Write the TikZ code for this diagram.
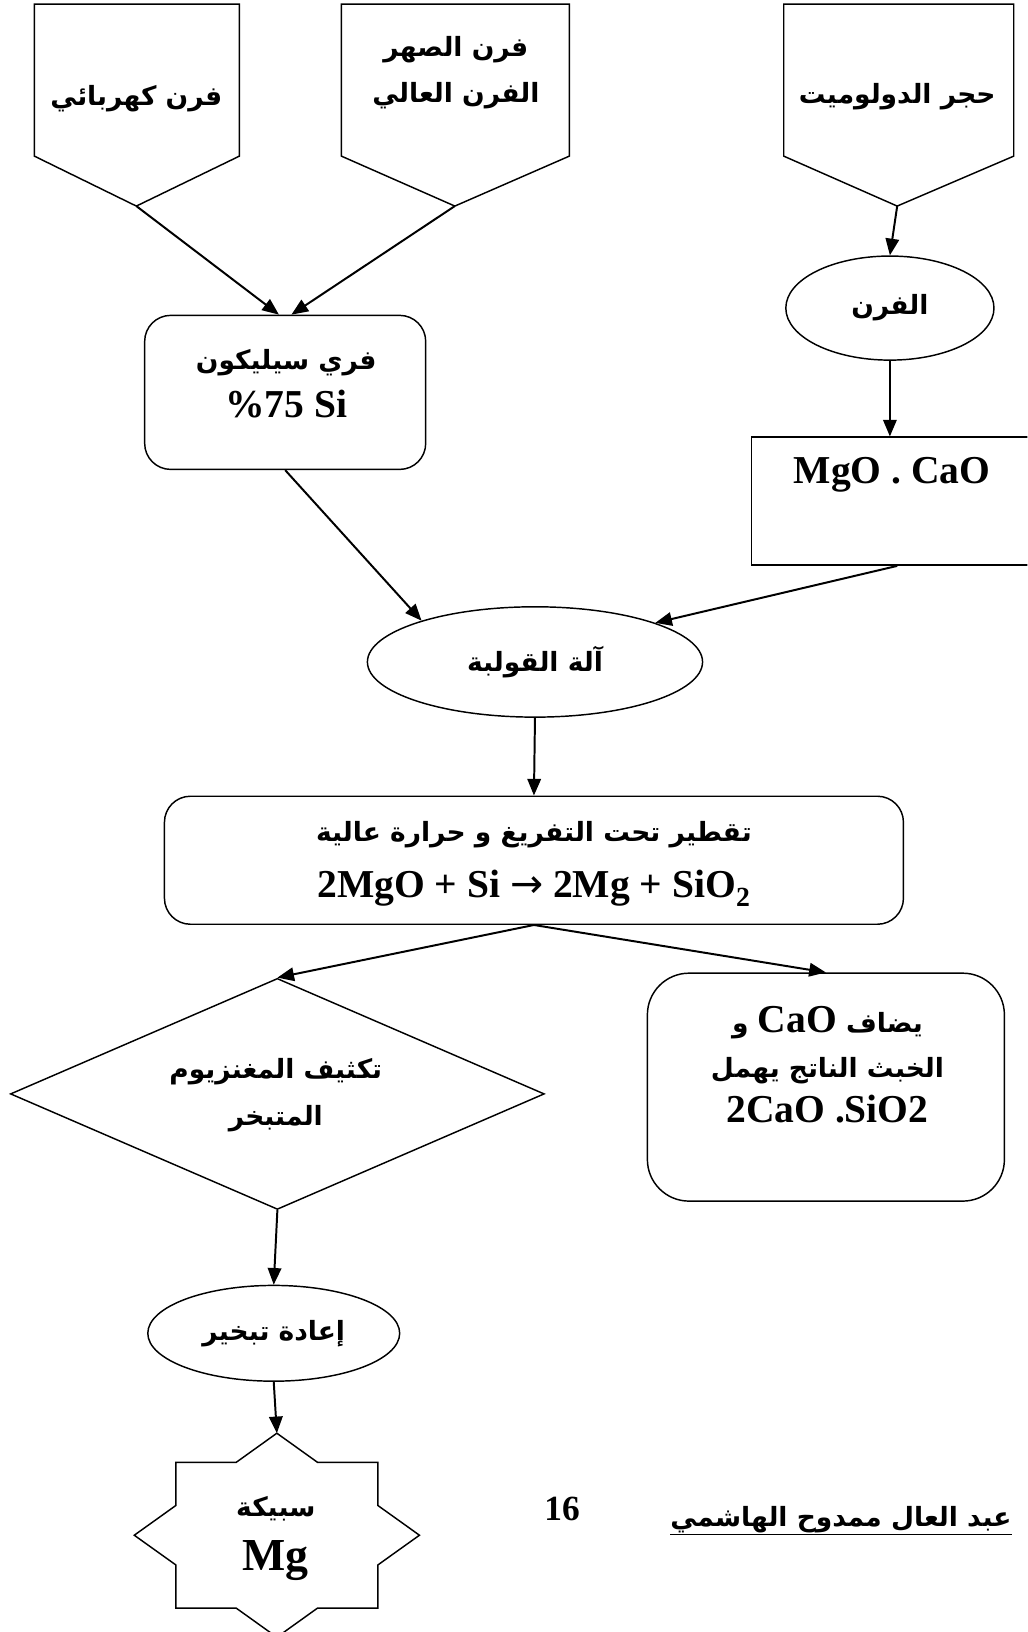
\documentclass[tikz,border=0pt]{standalone}
\usepackage{fontspec}
\setmainfont{Liberation Serif}
\newfontfamily\arabicfont[Script=Arabic,Scale=0.67]{DejaVu Sans}
\newfontfamily\symfont{DejaVu Sans}
\TeXXeTstate=1
\usetikzlibrary{shapes.geometric,arrows.meta}
\newcommand\artext[1]{{\arabicfont\bfseries\beginR #1\endR}}
\newcommand\lat[1]{\beginL{\rmfamily\bfseries #1}\endL{}}
\begin{document}
\begin{tikzpicture}[x=1pt,y=-1pt,
  shp/.style={draw,line width=1.4pt},
  arr/.style={line width=1.9pt,-{Triangle[length=16pt,width=13pt]}},
  txt/.style={align=center,inner sep=0pt,font=\bfseries\fontsize{38}{44}\selectfont},
]
\useasboundingbox (0,0) rectangle (987,1568);
\clip (0,0) rectangle (987,1568);

% top pentagons
\draw[shp] (33,4) -- (230,4) -- (230,150) -- (131,198) coordinate (t1) -- (33,150) -- cycle;
\draw[shp] (328,4) -- (547,4) -- (547,150) -- (437,198) coordinate (t2) -- (328,150) -- cycle;
\draw[shp] (753,4) -- (974,4) -- (974,150) -- (862,198) coordinate (t3) -- (753,150) -- cycle;
\node[txt] (l1) at (131,95) {\artext{فرن كهربائي}};
\node[txt] (l2) at (438,70) {\artext{فرن الصهر}\\\artext{الفرن العالي}};
\node[txt] (l3) at (862,93) {\artext{حجر الدولوميت}};

% ferro silicon
\node[shp,rounded corners=25pt,minimum width=270pt,minimum height=148pt] (sibox) at (274,377) {};
\node[txt,font=\bfseries\fontsize{38}{46}\selectfont] (sitxt) at (275,369) {\artext{فري سيليكون}\\\%75 Si};

% furnace
\node[shp,txt,ellipse,minimum width=200pt,minimum height=100pt] (furn) at (855,296) {\artext{الفرن}};
\node[shp,minimum width=280pt,minimum height=123pt] (mgo) at (862,481.5) {};
\node[txt] (mgotxt) at (857,456) {MgO . CaO};

% briquetting
\node[shp,txt,ellipse,minimum width=322pt,minimum height=106pt] (mold) at (514,636) {\artext{آلة القولبة}};

% distillation
\node[shp,rounded corners=25pt,minimum width=710pt,minimum height=123pt] (dist) at (513,826.5) {};
\node[txt,font=\bfseries\fontsize{38}{54}\selectfont] (disttxt) at (513,830) {\artext{تقطير تحت التفريغ و حرارة عالية}\\2MgO + Si {\symfont\mdseries →} 2Mg + SiO\textsubscript{2}};

% condensation
\node[shp,diamond,aspect=2.31,minimum width=513pt,minimum height=222pt,inner sep=0pt] (cond) at (266.5,1051) {};
\node[txt,font=\bfseries\fontsize{38}{45}\selectfont] (condtxt) at (265,1052) {\artext{تكثيف المغنزيوم}\\\artext{المتبخر}};

% slag box
\node[shp,rounded corners=40pt,minimum width=343pt,minimum height=219pt] (rbox) at (793.5,1044.5) {};
\node[txt,font=\bfseries\fontsize{38}{43.5}\selectfont] (rtxt) at (795,1023) {\artext{يضاف \lat{CaO} و}\\\artext{الخبث الناتج يهمل}\\2CaO .SiO2};

% re-evaporation
\node[shp,txt,ellipse,minimum width=242pt,minimum height=92pt] (reev) at (263,1281) {\artext{إعادة تبخير}};

% star
\draw[shp] (266,1377) coordinate (startop) -- (226.9,1405) -- (169,1405) -- (169,1446.4) -- (129,1475) -- (169,1503.6) -- (169,1545) -- (226.9,1545) -- (266,1573) -- (305.1,1545) -- (363,1545) -- (363,1503.6) -- (403,1475) -- (363,1446.4) -- (363,1405) -- (305.1,1405) -- cycle;
\node[txt,font=\bfseries\fontsize{38}{52}\selectfont] (startxt) at (265,1478) {\artext{سبيكة}\\{\fontsize{44}{52}\selectfont Mg}};

% footer
\node[txt,font=\bfseries\fontsize{34}{40}\selectfont] (pg) at (540,1450) {16};
\node[txt] (auth) at (808,1460) {\artext{عبد العال ممدوح الهاشمي}};
\draw[line width=1.4pt] ([yshift=-8pt]auth.base west) -- ([yshift=-8pt]auth.base east);

% connectors
\draw[arr] (t1) -- ([xshift=-6pt]sibox.north);
\draw[arr] (t2) -- ([xshift=6pt]sibox.north);
\draw[arr] (t3) -- (furn.north);
\draw[arr] (furn.south) -- (furn.south |- mgo.north);
\draw[arr] (sibox.south) -- (mold.160);
\draw[arr] (mgo.south) -- (mold.18);
\draw[arr] (mold.south) -- (dist.north);
\draw[arr] (dist.south) -- (cond.north);
\draw[arr] (dist.south) -- (rbox.north);
\draw[arr] (cond.south) -- (reev.north);
\draw[arr] (reev.south) -- (startop);
\end{tikzpicture}
\end{document}
